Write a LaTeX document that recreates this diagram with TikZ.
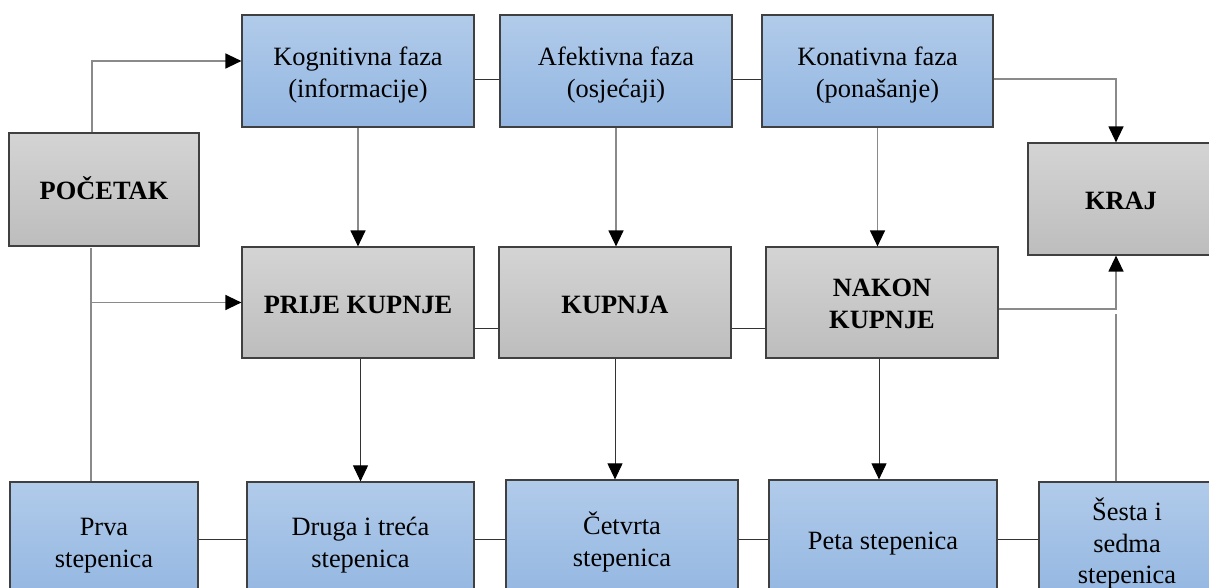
\documentclass[tikz,border=0pt]{standalone}
\usepackage{fontspec}
\setmainfont{Liberation Serif}
\usetikzlibrary{arrows.meta,calc}
\definecolor{bluetop}{HTML}{B1CBEA}
\definecolor{bluebot}{HTML}{93B6E1}
\definecolor{graytop}{HTML}{D4D4D4}
\definecolor{graybot}{HTML}{BDBDBD}
\definecolor{edge}{HTML}{404040}
\definecolor{lgray}{HTML}{8A8A8A}
\newcommand\boxtxt[2]{\raisebox{-#1}[\height][\depth]{\begin{tabular}{@{}c@{}}#2\end{tabular}}}
\tikzset{
  box/.style={draw=edge, line width=1.2pt, inner sep=2pt,
    font=\fontsize{26.4}{31.5}\selectfont, text=black},
  bluebox/.style={box, top color=bluetop, bottom color=bluebot},
  graybox/.style={box, top color=graytop, bottom color=graybot, font=\fontsize{26.4}{31.5}\selectfont\bfseries},
  gline/.style={draw=lgray, line width=1.3pt},
  kline/.style={draw=black!80, line width=0.9pt},
  tip/.style={-{Triangle[length=16pt,width=15pt,color=black]}},
}
\begin{document}
\begin{tikzpicture}[x=1pt,y=-1pt]
\useasboundingbox (0,0) rectangle (1209,588);
\clip (0,0) rectangle (1209,588);
% top row
\node[bluebox, minimum width=232pt, minimum height=112pt] (kog) at (358,71) {\boxtxt{4pt}{Kognitivna faza\\(informacije)}};
\node[bluebox, minimum width=232pt, minimum height=112pt] (afe) at (616,71) {\boxtxt{4pt}{Afektivna faza\\(osjećaji)}};
\node[bluebox, minimum width=231pt, minimum height=112pt] (kon) at (877.5,71) {\boxtxt{4pt}{Konativna faza\\(ponašanje)}};
% start / end
\node[graybox, minimum width=190pt, minimum height=113pt] (poc) at (104,189.5) {\boxtxt{3.5pt}{POČETAK}};
\node[graybox, minimum width=186pt, minimum height=112pt] (kraj) at (1121,199) {\boxtxt{4pt}{KRAJ}};
% middle row
\node[graybox, minimum width=232pt, minimum height=111pt] (prije) at (358,302.5) {\boxtxt{4.5pt}{PRIJE KUPNJE}};
\node[graybox, minimum width=232pt, minimum height=111pt] (kupnja) at (615,302.5) {\boxtxt{4.5pt}{KUPNJA}};
\node[graybox, minimum width=232pt, minimum height=111pt] (nakon) at (882,302.5) {\boxtxt{3.5pt}{NAKON\\KUPNJE}};
% bottom row
\node[bluebox, minimum width=188pt, minimum height=118pt] (prva) at (104,541) {\boxtxt{4pt}{Prva\\stepenica}};
\node[bluebox, minimum width=227pt, minimum height=118pt] (druga) at (360.5,541) {\boxtxt{4pt}{Druga i treća\\stepenica}};
\node[bluebox, minimum width=232pt, minimum height=120pt] (cetvrta) at (622,540) {\boxtxt{4pt}{Četvrta\\stepenica}};
\node[bluebox, minimum width=228pt, minimum height=120pt] (peta) at (883,540) {\boxtxt{3pt}{Peta stepenica}};
\node[bluebox, minimum width=176pt, minimum height=118pt] (sesta) at (1127,541) {\boxtxt{4.5pt}{Šesta i\\sedma\\stepenica}};
% connectors top
\draw[gline,tip] (poc.north -| 92,0) |- ([yshift=10pt]kog.west);
\draw[kline] ([yshift=-8pt]kog.east) -- ([yshift=-8pt]afe.west);
\draw[kline] ([yshift=-8pt]afe.east) -- ([yshift=-8pt]kon.west);
\draw[gline,tip] ([yshift=-8pt]kon.east) -| ([xshift=-5pt]kraj.north);
\draw[gline,tip] (kog.south) -- (prije.north);
\draw[gline,tip] (afe.south) -- (afe.south |- kupnja.north);
\draw[gline,tip] (kon.south) -- (kon.south |- nakon.north);
% connectors middle
\coordinate (j1) at (91,302.5);
\coordinate (j1top) at (91,248);
\draw[gline] (prva.north -| j1) -- (j1top);
\draw[gline,tip] (j1) -- (j1 -| prije.west);
\draw[kline] ([yshift=-25.5pt]prije.east) -- ([yshift=-25.5pt]kupnja.west);
\draw[kline] ([yshift=-25.5pt]kupnja.east) -- ([yshift=-25.5pt]nakon.west);
\draw[gline,tip] ([yshift=-6.5pt]nakon.east) -| ([xshift=-5pt]kraj.south);
\coordinate (j2) at (1116,314);
\draw[gline] (sesta.north -| j2) -- (j2);
\draw[kline,tip] (druga.north |- prije.south) -- (druga.north);
\draw[kline,tip] (kupnja.south) -- (kupnja.south |- cetvrta.north);
\draw[kline,tip] (nakon.south -| 879,0) -- (peta.north -| 879,0);
% connectors bottom
\draw[kline] ([yshift=2pt]prva.east) -- ([yshift=2pt]prva.east -| druga.west);
\draw[kline] ([yshift=2pt]druga.east) -- ([yshift=2pt]druga.east -| cetvrta.west);
\draw[kline] ([yshift=1pt]cetvrta.east) -- ([yshift=1pt]cetvrta.east -| peta.west);
\draw[kline] ([yshift=1pt]peta.east) -- ([yshift=1pt]peta.east -| sesta.west);
\end{tikzpicture}
\end{document}
